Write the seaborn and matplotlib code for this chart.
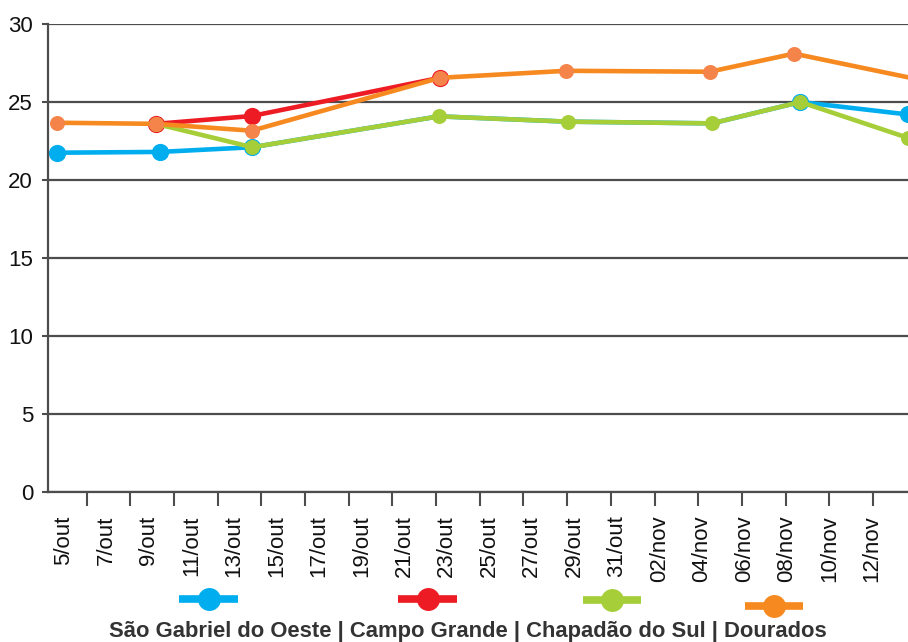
import pandas as pd
import seaborn as sns
import matplotlib.pyplot as plt
from matplotlib.lines import Line2D

# dias contados a partir de 5/out (posicao aproximada de cada leitura)
dias_sao_gabriel = [0, 4.83, 9.17, 17.94, 24.0, 30.79, 34.94, 40.0]
temp_sao_gabriel = [21.75, 21.8, 22.1, 24.08, 23.74, 23.63, 25.0, 24.2]

dias_campo_grande = [4.64, 9.14, 17.99]
temp_campo_grande = [23.6, 24.1, 26.55]

dias_chapadao = [4.64, 9.17, 17.94, 24.0, 30.79, 34.94, 40.0]
temp_chapadao = [23.6, 22.1, 24.08, 23.74, 23.63, 25.0, 22.7]

dias_dourados = [0, 4.64, 9.14, 17.99, 23.94, 30.68, 34.64, 41.0]
temp_dourados = [23.67, 23.6, 23.16, 26.55, 27.0, 26.94, 28.1, 26.3]

rotulos_x = ["5/out", "7/out", "9/out", "11/out", "13/out", "15/out", "17/out",
             "19/out", "21/out", "23/out", "25/out", "27/out", "29/out", "31/out",
             "02/nov", "04/nov", "06/nov", "08/nov", "10/nov", "12/nov"]

nomes = ["São Gabriel do Oeste", "Campo Grande", "Chapadão do Sul", "Dourados"]
cores_linha = ["#00AEEF", "#ED1C24", "#A6CE39", "#F6891F"]
cores_marca = ["#00AEEF", "#ED1C24", "#A6CE39", "#F4844A"]


def montar_df():
    partes = []
    for nome, d, t in zip(nomes,
                          [dias_sao_gabriel, dias_campo_grande, dias_chapadao, dias_dourados],
                          [temp_sao_gabriel, temp_campo_grande, temp_chapadao, temp_dourados]):
        partes.append(pd.DataFrame({"dia": d, "temp": t, "local": nome}))
    return pd.concat(partes, ignore_index=True)


if __name__ == "__main__":
    df = montar_df()

    sns.set_style("white")
    plt.rcParams["font.family"] = ["Liberation Sans", "DejaVu Sans"]

    fig = plt.figure(figsize=(9.08, 6.42), dpi=100)
    ax = fig.add_axes([47.7 / 908, 1 - 492 / 642, (908 - 47.7) / 908, (492 - 24) / 642])

    # anel de borda para azul e vermelho (ficam por baixo)
    bordas = [1.6, 1.6, 0, 0]
    # azul fica escondido sob o verde entre 23/out e 04/nov
    visiveis = [[0, 1, 2, 6, 7], None, None, None]
    for nome, cl, cm, mew, mev in zip(nomes, cores_linha, cores_marca, bordas, visiveis):
        sub = df[df["local"] == nome]
        sns.lineplot(data=sub, x="dia", y="temp", ax=ax, color=cl, lw=3.3,
                     marker="o", markersize=10.8, markerfacecolor=cm,
                     markeredgecolor=cl, markeredgewidth=mew, markevery=mev,
                     sort=True, estimator=None, legend=False)

    ax.set_xlim(-0.45, 40.0)
    ax.set_ylim(0, 30)
    ax.set_yticks([0, 5, 10, 15, 20, 25, 30])
    ax.yaxis.grid(True, color="#4d4d4d", lw=1.6)
    ax.set_axisbelow(True)

    # marcas de divisao (sem rotulo) e rotulos nas datas
    marcas = [1.38 + 2.054 * k for k in range(19)]
    ax.set_xticks(marcas)
    ax.set_xticklabels([])
    ax.set_xticks([0.3 + 2 * k for k in range(len(rotulos_x))], minor=True)
    ax.set_xticklabels(rotulos_x, minor=True, rotation=90, fontsize=16, va="top")
    ax.tick_params(axis="x", which="major", length=10, width=1.5, color="#4d4d4d",
                   direction="out", bottom=True)
    ax.tick_params(axis="x", which="minor", length=0, pad=17, colors="#111111")
    ax.tick_params(axis="y", length=4.5, width=1.5, color="#4d4d4d", left=True,
                   pad=6, labelsize=16, labelcolor="#111111")

    for s in ["top", "right"]:
        ax.spines[s].set_visible(False)
    for s in ["left", "bottom"]:
        ax.spines[s].set_color("#4d4d4d")
        ax.spines[s].set_linewidth(1.6)

    ax.set_xlabel("")
    ax.set_ylabel("")

    # chaves da legenda
    chaves = [(179, 238, 599), (398, 457, 599), (583, 641, 600), (745, 803, 606)]
    for (x0, x1, y), cor in zip(chaves, cores_linha):
        fig.add_artist(Line2D([x0 / 908, x1 / 908], [1 - y / 642, 1 - y / 642],
                              transform=fig.transFigure, color=cor, lw=5.5,
                              solid_capstyle="butt"))
        fig.add_artist(Line2D([(x0 + x1) / 2 / 908], [1 - y / 642],
                              transform=fig.transFigure, color=cor, marker="o",
                              markersize=15.5, lw=0))

    fig.text(467.5 / 908, 1 - 631 / 642, " | ".join(nomes), ha="center",
             va="center", fontsize=15.8, fontweight="bold", color="#333333")

    plt.savefig("out.png", dpi=100)
